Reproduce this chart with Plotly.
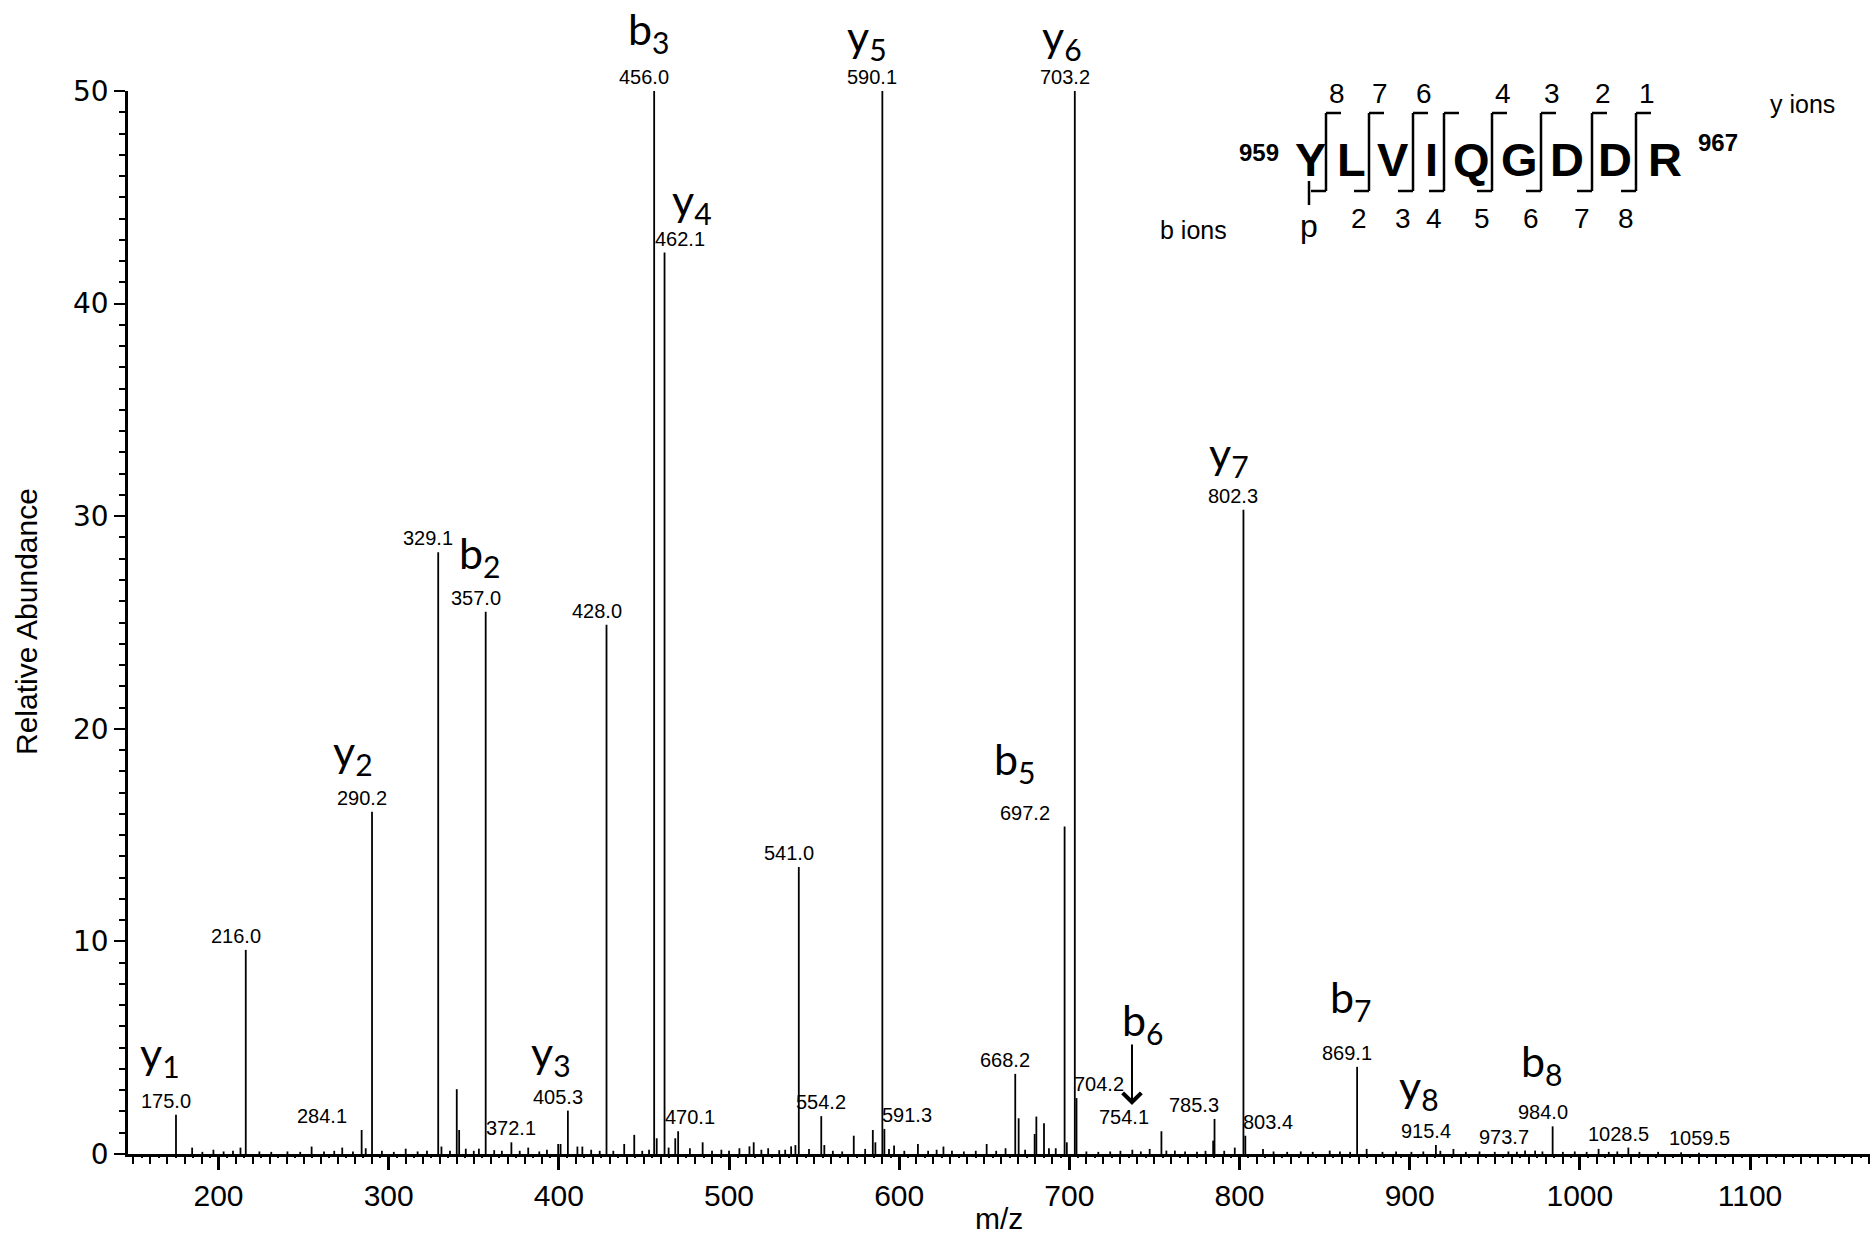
import plotly.graph_objects as go

# ---------------- data ----------------
peak_mz = [175.0, 184.5, 190.5, 197.0, 203.0, 208.5, 212.9, 216.0, 224.0, 231.0, 240.5, 248.0,
           254.7, 262.0, 268.0, 272.7, 279.0, 284.1, 286.5, 290.2, 296.0, 303.0, 310.0, 317.0,
           322.5, 329.1, 331.0, 336.0, 340.0, 341.4, 345.3, 350.0, 353.0, 357.0, 362.0, 366.5,
           372.1, 377.0, 382.0, 388.5, 393.0, 399.6, 401.0, 405.3, 410.9, 413.8, 419.0, 424.0,
           428.0, 432.0, 438.4, 444.3, 449.0, 453.0, 456.0, 457.5, 462.1, 464.5, 468.4, 470.1,
           477.0, 484.5, 490.0, 495.5, 500.0, 506.1, 512.0, 514.5, 519.0, 523.0, 529.5, 533.0,
           536.5, 539.0, 541.0, 547.0, 554.2, 556.0, 561.0, 566.5, 573.3, 580.0, 584.5, 586.0,
           590.1, 591.3, 594.0, 597.0, 603.0, 611.0, 617.0, 622.0, 626.0, 631.0, 638.0, 645.0,
           651.4, 657.0, 662.5, 668.2, 670.2, 674.0, 679.6, 680.6, 685.1, 688.0, 692.0, 697.2,
           698.5, 703.2, 704.2, 710.0, 717.0, 724.0, 730.0, 737.0, 742.0, 747.2, 754.1, 757.0,
           762.0, 768.0, 775.0, 780.0, 784.5, 785.3, 791.0, 797.2, 802.3, 803.4, 813.8, 820.0,
           828.0, 836.0, 843.0, 853.0, 859.0, 865.0, 869.1, 874.7, 884.0, 892.0, 901.0, 908.0,
           915.4, 918.0, 925.7, 933.0, 941.0, 950.0, 958.0, 963.0, 967.8, 973.7, 978.0, 984.0,
           990.0, 997.0, 1004.0, 1011.0, 1017.0, 1022.0, 1028.5, 1035.0, 1046.0, 1059.5, 1070.0]
peak_int = [1.85, 0.30, 0.10, 0.20, 0.12, 0.15, 0.30, 9.60, 0.12, 0.10, 0.12, 0.10,
            0.35, 0.12, 0.15, 0.30, 0.12, 1.13, 0.27, 16.1, 0.15, 0.10, 0.25, 0.12,
            0.15, 28.3, 0.35, 0.15, 3.05, 1.13, 0.25, 0.15, 0.25, 25.5, 0.18, 0.15,
            0.55, 0.15, 0.30, 0.12, 0.20, 0.47, 0.47, 2.04, 0.35, 0.35, 0.20, 0.15,
            24.9, 0.15, 0.47, 0.90, 0.15, 0.20, 50.0, 0.74, 42.4, 0.30, 0.74, 1.07,
            0.27, 0.55, 0.15, 0.20, 0.15, 0.27, 0.36, 0.55, 0.20, 0.27, 0.18, 0.20,
            0.36, 0.42, 13.5, 0.24, 1.78, 0.42, 0.15, 0.12, 0.86, 0.24, 1.13, 0.55,
            50.0, 1.18, 0.24, 0.40, 0.15, 0.47, 0.15, 0.20, 0.35, 0.15, 0.12, 0.15,
            0.47, 0.15, 0.27, 3.77, 1.68, 0.20, 0.94, 1.76, 1.45, 0.27, 0.27, 15.4,
            0.55, 50.0, 2.63, 0.12, 0.10, 0.12, 0.15, 0.20, 0.12, 0.24, 1.07, 0.16,
            0.16, 0.12, 0.10, 0.15, 0.63, 1.65, 0.15, 0.30, 30.3, 0.86, 0.24, 0.12,
            0.10, 0.12, 0.10, 0.16, 0.12, 0.10, 4.10, 0.24, 0.10, 0.12, 0.10, 0.12,
            0.42, 0.15, 0.24, 0.10, 0.12, 0.10, 0.12, 0.10, 0.16, 0.16, 0.12, 1.30,
            0.10, 0.12, 0.10, 0.24, 0.10, 0.12, 0.30, 0.10, 0.10, 0.08, 0.06]

label_mz = [175.0, 216.0, 284.1, 290.2, 329.1, 357.0, 372.1, 405.3, 428.0, 456.0, 462.1,
            470.1, 541.0, 554.2, 590.1, 591.3, 668.2, 697.2, 703.2, 704.2, 754.1, 785.3,
            802.3, 803.4, 869.1, 915.4, 973.7, 984.0, 1028.5, 1059.5]

ion_names = ["y<sub>1</sub>", "y<sub>2</sub>", "y<sub>3</sub>", "b<sub>2</sub>", "b<sub>3</sub>",
             "y<sub>4</sub>", "y<sub>5</sub>", "y<sub>6</sub>", "y<sub>7</sub>", "b<sub>5</sub>",
             "b<sub>7</sub>", "y<sub>8</sub>", "b<sub>8</sub>"]
ion_peaks = [175.0, 290.2, 405.3, 357.0, 456.0, 462.1, 590.1, 703.2, 802.3, 697.2, 869.1, 915.4, 984.0]
b6_mz, b6_int = 736.8, 2.3

x_major = [200, 300, 400, 500, 600, 700, 800, 900, 1000, 1100]
y_major = [0, 10, 20, 30, 40, 50]

sequence = ["Y", "L", "V", "I", "Q", "G", "D", "D", "R"]
y_ion_nums = ["8", "7", "6", "", "4", "3", "2", "1"]
b_ion_nums = ["", "2", "3", "4", "5", "6", "7", "8"]

# ---------------- style / layout helpers ----------------
W, H = 1871, 1234
PL, PR, PT, PB = 128, 1870, 91, 1154
def px(x): return (x - PL) / (PR - PL)
def py(y): return (PB - y) / (PB - PT)

NARROW = "Liberation Sans Narrow, Arial Narrow, Liberation Sans, Arial"
ARIAL = "Liberation Sans, Arial"
ION_FONT = "Lato, Carlito, Calibri, Open Sans"

label_dx = {284.1: -40, 372.1: 0, 462.1: 15, 470.1: 12, 554.2: 0, 591.3: 23, 697.2: -40,
            704.2: 22, 754.1: -37, 785.3: -21, 803.4: 23, 973.7: -31, 1059.5: 18}
ion_off = [(-16, 59), (-19, 58), (-17, 56), (-6, 56), (-5, 60), (27, 50), (-15, 53), (-13, 53),
           (-14, 54), (-50, 65), (-6, 67), (-17, 57), (-11, 63)]

inten_of = dict(zip(peak_mz, peak_int))

fig = go.Figure()
xs, ys = [], []
for m, h in zip(peak_mz, peak_int):
    xs += [m, m, None]
    ys += [0, h, None]
fig.add_trace(go.Scatter(x=xs, y=ys, mode="lines", line=dict(color="black", width=1.8),
                         hoverinfo="skip", showlegend=False))
fig.add_trace(go.Scatter(x=[None], y=[None], xaxis="x2", showlegend=False, hoverinfo="skip"))

ann = []
for m in label_mz:
    ann.append(dict(x=m, y=min(inten_of[m], 50), xref="x", yref="y", text=f"{m:.1f}",
                    showarrow=False, xanchor="center", yanchor="middle",
                    xshift=label_dx.get(m, -10), yshift=14,
                    font=dict(family=ARIAL, size=20, color="black")))
for name, m, (dx, dy) in zip(ion_names, ion_peaks, ion_off):
    ann.append(dict(x=m, y=min(inten_of[m], 50), xref="x", yref="y", text=name,
                    showarrow=False, xanchor="center", yanchor="middle",
                    xshift=dx, yshift=dy,
                    font=dict(family=ION_FONT, size=43, color="black")))
ann.append(dict(x=b6_mz, y=b6_int, xref="x", yref="y", text="", showarrow=True,
                ax=0, ay=-62, arrowhead=4, arrowsize=1.8, arrowwidth=2, arrowcolor="black"))
ann.append(dict(x=b6_mz, y=b6_int, xref="x", yref="y", text="b<sub>6</sub>", showarrow=False,
                xanchor="center", yanchor="middle", xshift=11, yshift=83,
                font=dict(family=ION_FONT, size=43, color="black")))

ann.append(dict(x=px(999), y=py(1218), xref="paper", yref="paper", text="m/z", showarrow=False,
                xanchor="center", yanchor="middle", font=dict(family=NARROW, size=30, color="black")))
ann.append(dict(x=px(26), y=py(622), xref="paper", yref="paper", text="Relative Abundance",
                showarrow=False, textangle=-90, xanchor="center", yanchor="middle",
                font=dict(family=NARROW, size=30, color="black")))

letter_x = [1310, 1351, 1393, 1431, 1471, 1519, 1567, 1615, 1665]
site_x = [1326, 1369, 1413, 1444, 1492, 1541, 1592, 1636]
Y_NUM, Y_TOP, Y_LET, Y_BOT, Y_BNUM = 93, 113, 159, 191, 218
shapes = []
for ch, lx in zip(sequence, letter_x):
    ann.append(dict(x=px(lx), y=py(Y_LET), xref="paper", yref="paper", text=f"<b>{ch}</b>",
                    showarrow=False, xanchor="center", yanchor="middle",
                    font=dict(family=ARIAL, size=47, color="black")))
for sx, yn, bn in zip(site_x, y_ion_nums, b_ion_nums):
    shapes.append(dict(type="line", xref="paper", yref="paper", x0=px(sx), x1=px(sx),
                       y0=py(Y_TOP), y1=py(Y_BOT), line=dict(color="black", width=2.5)))
    shapes.append(dict(type="line", xref="paper", yref="paper", x0=px(sx), x1=px(sx + 15),
                       y0=py(Y_TOP), y1=py(Y_TOP), line=dict(color="black", width=2.5)))
    shapes.append(dict(type="line", xref="paper", yref="paper", x0=px(sx - 15), x1=px(sx),
                       y0=py(Y_BOT), y1=py(Y_BOT), line=dict(color="black", width=2.5)))
    if yn:
        ann.append(dict(x=px(sx + 11), y=py(Y_NUM), xref="paper", yref="paper", text=yn,
                        showarrow=False, xanchor="center", yanchor="middle",
                        font=dict(family=NARROW, size=28, color="black")))
    if bn:
        ann.append(dict(x=px(sx - 10), y=py(Y_BNUM), xref="paper", yref="paper", text=bn,
                        showarrow=False, xanchor="center", yanchor="middle",
                        font=dict(family=NARROW, size=28, color="black")))
shapes.append(dict(type="line", xref="paper", yref="paper", x0=px(1309), x1=px(1309),
                   y0=py(181), y1=py(205), line=dict(color="black", width=2.5)))
ann.append(dict(x=px(1309), y=py(226), xref="paper", yref="paper", text="p", showarrow=False,
                xanchor="center", yanchor="middle", font=dict(family=NARROW, size=32, color="black")))
ann.append(dict(x=px(1259), y=py(152), xref="paper", yref="paper", text="<b>959</b>", showarrow=False,
                xanchor="center", yanchor="middle", font=dict(family=NARROW, size=24, color="black")))
ann.append(dict(x=px(1718), y=py(143), xref="paper", yref="paper", text="<b>967</b>", showarrow=False,
                xanchor="center", yanchor="middle", font=dict(family=NARROW, size=24, color="black")))
ann.append(dict(x=px(1802), y=py(104), xref="paper", yref="paper", text="y ions", showarrow=False,
                xanchor="center", yanchor="middle", font=dict(family=ARIAL, size=25, color="black")))
ann.append(dict(x=px(1193), y=py(230), xref="paper", yref="paper", text="b ions", showarrow=False,
                xanchor="center", yanchor="middle", font=dict(family=ARIAL, size=25, color="black")))

XR = [146.8, 1170.5]
fig.update_layout(
    width=W, height=H, margin=dict(l=PL, r=W - PR, t=PT, b=H - PB, pad=0, autoexpand=False),
    paper_bgcolor="white", plot_bgcolor="white",
    xaxis=dict(range=XR, showline=True, linecolor="black", linewidth=2.5, mirror=False,
               automargin=False,
               ticks="outside", tickvals=x_major, ticklen=13, tickwidth=2.5, tickcolor="black",
               minor=dict(dtick=10, tick0=0, ticks="outside", ticklen=7, tickwidth=2, tickcolor="black"),
               showgrid=False, zeroline=False,
               tickfont=dict(family=NARROW, size=30, color="black")),
    xaxis2=dict(range=XR, overlaying="x", anchor="y", side="bottom", showline=False,
                automargin=False,
                ticks="outside", dtick=5, tick0=0, ticklen=3, tickwidth=1.5, tickcolor="black",
                showticklabels=False, showgrid=False, zeroline=False),
    yaxis=dict(range=[0, 50], showline=True, linecolor="black", linewidth=2.5,
               automargin=False,
               ticks="outside", tickvals=y_major, ticklen=11, tickwidth=2, tickcolor="black",
               minor=dict(dtick=1, tick0=0, ticks="outside", ticklen=6, tickwidth=1.5, tickcolor="black"),
               showgrid=False, zeroline=False,
               tickfont=dict(family="DejaVu Sans", size=28, color="black")),
    annotations=ann, shapes=shapes, showlegend=False,
)
fig.write_html("out.html", config={"displayModeBar": False},
               post_script="document.body.style.margin='0';document.body.style.padding='0';"
                           "document.documentElement.style.overflow='hidden';")
